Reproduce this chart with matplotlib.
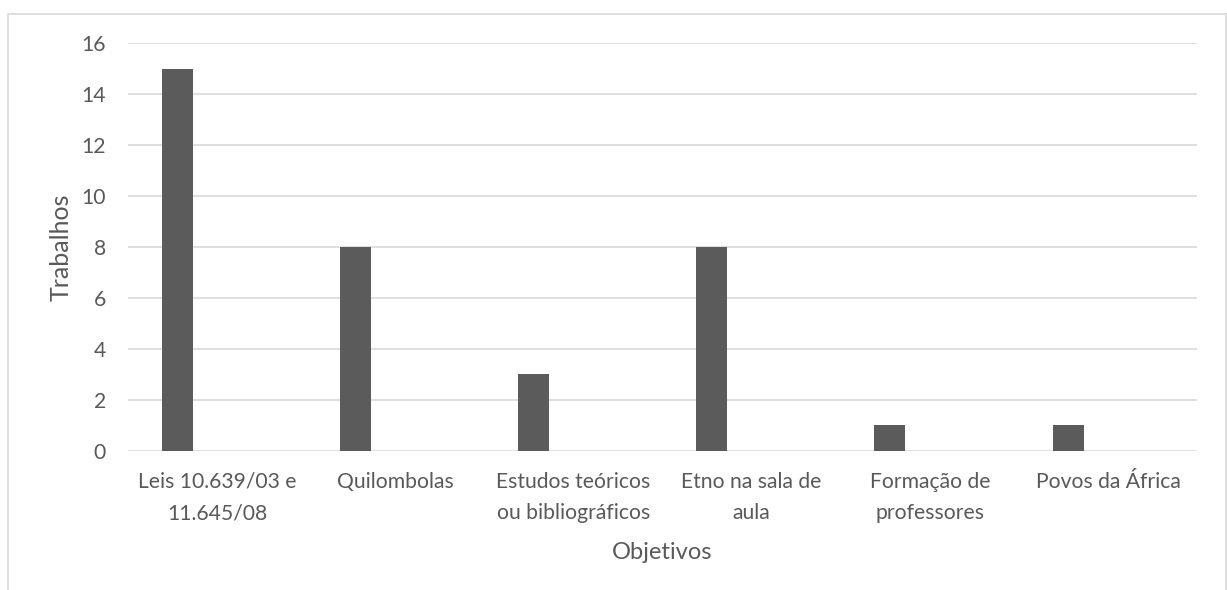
import matplotlib.pyplot as plt
import numpy as np
from matplotlib.patches import Rectangle

categorias = ["Leis 10.639/03 e\n11.645/08", "Quilombolas",
              "Estudos teóricos\nou bibliográficos", "Etno na sala de\naula",
              "Formação de\nprofessores", "Povos da África"]
trabalhos = [15, 8, 3, 8, 1, 1]
yticks = [0, 2, 4, 6, 8, 10, 12, 14, 16]

plt.rcParams['font.family'] = ['Lato', 'DejaVu Sans']
cor_texto = "#595959"
cor_grade = "#d9d9d9"

fig = plt.figure(figsize=(12.27, 5.90), dpi=100)
ax = fig.add_axes([0.1043, 0.2356, 0.8713, 0.6915])

x = np.arange(len(categorias))
ax.bar(x - 0.224, trabalhos, width=0.174, color="#5b5b5b", zorder=3)

ax.set_xlim(-0.5, len(categorias) - 0.5)
ax.set_ylim(0, 16)
ax.set_yticks(yticks)
ax.set_xticks(x)
ax.set_xticklabels(categorias, linespacing=1.7)
ax.grid(axis='y', color=cor_grade, linewidth=1.2, zorder=0)
for s in ax.spines.values():
    s.set_visible(False)
ax.tick_params(axis='both', length=0, labelsize=15.2, colors=cor_texto)
ax.tick_params(axis='y', pad=16)
ax.tick_params(axis='x', pad=15)

ax.set_xlabel("Objetivos", fontsize=17, color=cor_texto, labelpad=14)
ax.set_ylabel("Trabalhos", fontsize=18, color=cor_texto, labelpad=6)

# borda do gráfico
fig.patches.append(Rectangle((7.5 / 1227, -0.1), 1218 / 1227, 1.1 - 14 / 590,
                             transform=fig.transFigure, fill=False,
                             edgecolor=cor_grade, linewidth=1.2))

plt.savefig("out.png", dpi=100)
